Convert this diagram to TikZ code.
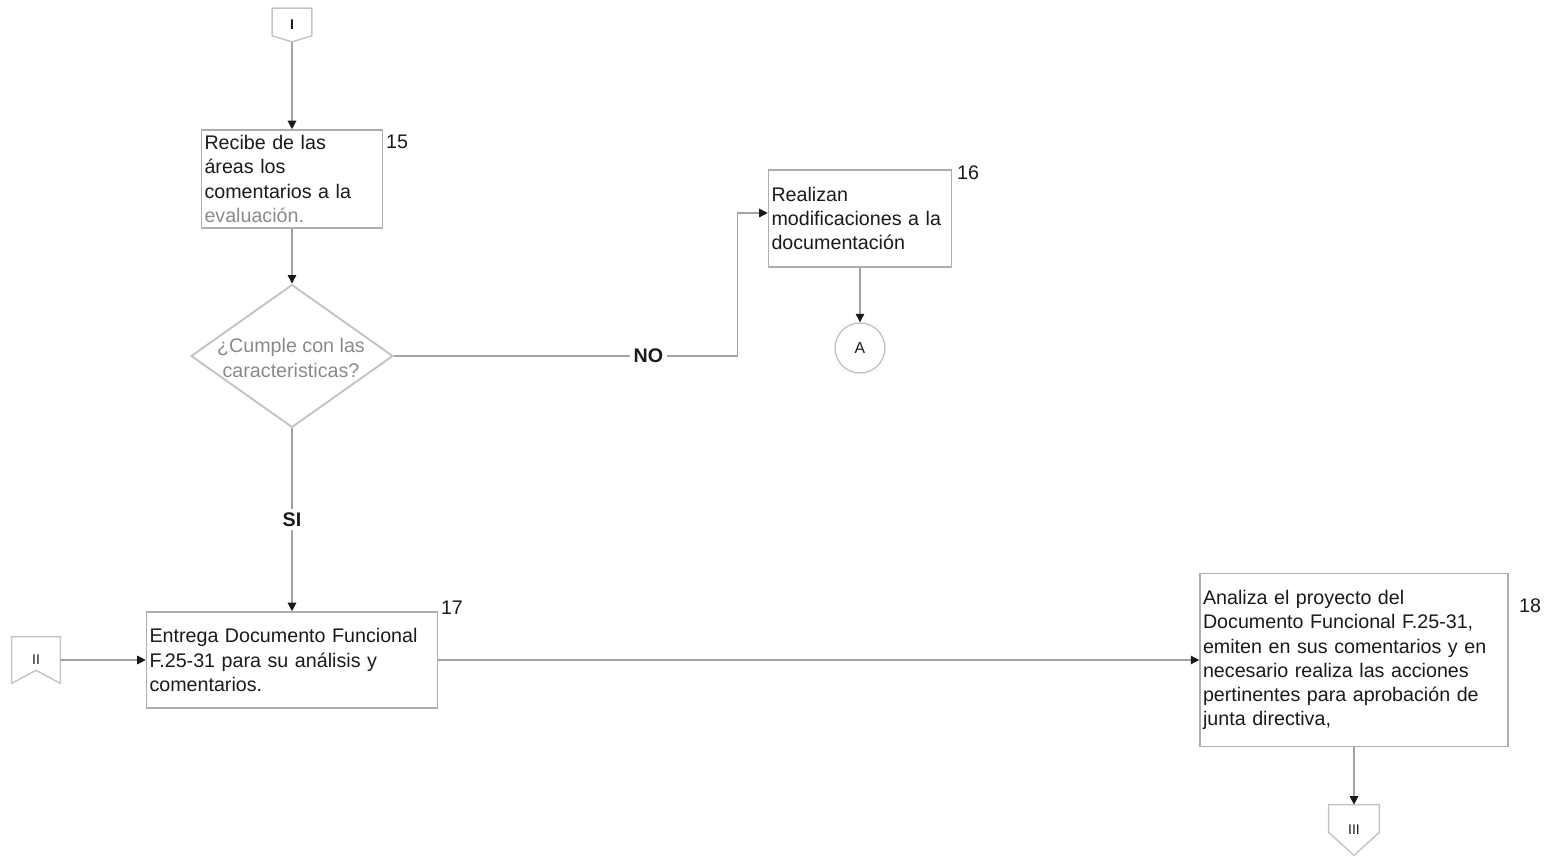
\documentclass[tikz,border=0pt]{standalone}
\usepackage{fontspec}
\setmainfont{Liberation Sans}
\usepackage{tikz}
\usetikzlibrary{arrows.meta,positioning,calc,shapes.geometric}
\definecolor{ink}{HTML}{1A1A1A}
\definecolor{wire}{HTML}{A3A3A3}
\definecolor{frame}{HTML}{AEAEAE}
\definecolor{pale}{HTML}{C4C4C4}
\definecolor{dim}{HTML}{8A8A8A}

\begin{document}
\begin{tikzpicture}[x=0.02cm, y=-0.02cm, font=\fontsize{11.2}{13.7}\selectfont, text=ink,
  >={Triangle[length=1.7mm, width=1.7mm, color=ink]},
  box/.style={draw=frame, line width=0.9pt, rectangle, inner xsep=0.06cm, inner ysep=0pt, align=left},
  dec/.style={draw=pale, line width=1.1pt, diamond, inner sep=0pt, minimum width=4.04cm, minimum height=2.86cm},
  dectxt/.style={align=center, text=dim},
  circ/.style={draw=pale, line width=0.8pt, circle, minimum size=1cm, inner sep=0pt, font=\small},
  conn/.style={rectangle, inner sep=0pt, font=\footnotesize},
  cl/.style={draw=pale, line width=0.8pt},
  m/.style={->, draw=wire, line width=0.7pt},
  lbl/.style={fill=white, inner sep=2pt, font=\fontsize{11.2}{13.7}\selectfont\bfseries},
  num/.style={inner sep=0pt}]
\useasboundingbox (0,0) rectangle (1553,865);

\node[conn, minimum width=0.78cm, minimum height=0.66cm] (oI) at (292,25) {\textbf{I}};
\draw[cl] (oI.north west) -- (oI.north east) -- ([yshift=0.12cm]oI.south east) -- (oI.south) -- ([yshift=0.12cm]oI.south west) -- cycle;

\node[box, minimum width=3.62cm, minimum height=1.96cm, text width=3.50cm] (b15) at (292,179)
  {Recibe de las\\áreas los\\comentarios a la\\\textcolor{dim}{evaluación.}};
\node[num] (n15) at (397,142) {15};

\node[dec] (dec) at (292,356) {};
\node[dectxt] (dect) at (291,358) {¿Cumple con las\\caracteristicas?};

\node[box, minimum width=3.66cm, minimum height=1.94cm, text width=3.54cm] (b16) at (860,218.5)
  {Realizan\\modificaciones a la\\documentación};
\node[num] (n16) at (968,173) {16};

\node[circ] (ca) at (860,348) {A};

\node[box, minimum width=5.82cm, minimum height=1.92cm, text width=5.70cm] (b17) at (292,660)
  {Entrega Documento Funcional\\F.25-31 para su análisis y\\comentarios.};
\node[num] (n17) at (452,608) {17};

\node[conn, minimum width=0.96cm, minimum height=0.92cm] (oII) at (36,660) {II};
\draw[cl] (oII.north west) -- (oII.north east) -- (oII.south east) -- ([yshift=0.26cm]oII.south) -- (oII.south west) -- cycle;

\node[box, minimum width=6.16cm, minimum height=3.46cm, text width=6.04cm] (b18) at (1354,660)
  {Analiza el proyecto del\\Documento Funcional F.25-31,\\emiten en sus comentarios y en\\necesario realiza las acciones\\pertinentes para aprobación de\\junta directiva,};
\node[num] (n18) at (1530,606) {18};

\node[conn, minimum width=1.0cm, minimum height=1.0cm] (oIII) at (1354,830) {III};
\draw[cl] (oIII.north west) -- (oIII.north east) -- ([yshift=0.46cm]oIII.south east) -- (oIII.south) -- ([yshift=0.46cm]oIII.south west) -- cycle;

\draw[m] (oI) -- (b15);
\draw[m] (b15) -- (dec);
\draw[m] (dec.east) -- node[lbl, pos=0.74] {NO} ([xshift=-0.6cm]dec.east -| b16.west) |- ([yshift=0.11cm]b16.west);
\draw[m] (b16) -- (ca);
\draw[m] (dec) -- node[lbl] {SI} (b17);
\draw[m] (oII) -- (b17);
\draw[m] (b17) -- (b18);
\draw[m] (b18) -- (oIII);
\end{tikzpicture}
\end{document}
